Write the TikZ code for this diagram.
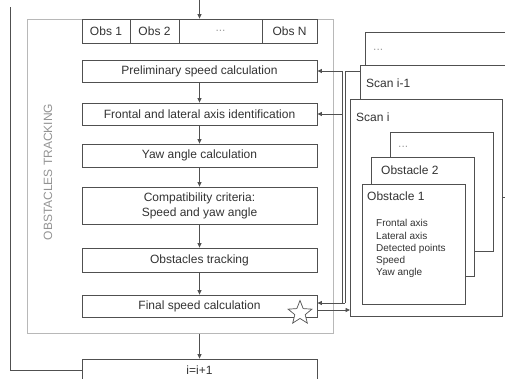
\documentclass[tikz,border=0pt]{standalone}
\usepackage{fontspec}
\setmainfont{Liberation Sans}
\usepackage{tikz}
\usetikzlibrary{arrows.meta, positioning, calc, shapes.geometric}
\usepackage{xcolor}
\definecolor{trait}{HTML}{505050}
\definecolor{texte}{HTML}{333333}
\definecolor{gris}{HTML}{B8B8B8}
\definecolor{points}{HTML}{A0A0A0}
\tikzset{
    bloc/.style={draw=trait, line width=0.8pt, fill=white, minimum width=235pt, minimum height=22pt, inner sep=0pt, text=texte, font=\fontsize{12}{15}\selectfont, align=center},
    case/.style={draw=trait, line width=0.8pt, fill=white, minimum height=24pt, inner sep=0pt, text=texte, font=\fontsize{12}{15}\selectfont},
    feuille/.style={draw=trait, line width=0.8pt, fill=white, anchor=north west, inner sep=0pt},
    etiquette/.style={anchor=west, inner sep=0pt, text=texte, font=\fontsize{12}{15}\selectfont},
    fleche/.style={-{Triangle[length=4.5pt, width=4pt]}, line width=0.8pt, trait},
    lien/.style={line width=0.8pt, trait},
}

\begin{document}
\begin{tikzpicture}[x=1pt, y=-1pt]
\useasboundingbox (0,0) rectangle (505,378);
\clip (0,0) rectangle (505,378);
% Cadre du suivi
\node[draw=gris, line width=0.9pt, minimum width=306pt, minimum height=314pt, anchor=north west, inner sep=0pt] (suivi) at (27,19) {};
\node[rotate=90, text=gris!80!black, font=\fontsize{12}{14}\selectfont] (titre) at (48,172) {OBSTACLES TRACKING};
% Liste des obstacles
\node[case, minimum width=48pt] (obs1) at (106,31) {Obs 1};
\node[case, minimum width=49pt] (obs2) at (154.5,31) {Obs 2};
\node[case, minimum width=83pt, text=points] (obsdots) at (220.5,31) {...};
\node[case, minimum width=55pt] (obsN) at (289.5,31) {Obs N};
% Etapes
\node[bloc] (prelim) at (199.5,71) {Preliminary speed calculation};
\node[bloc] (axes) at (199.5,114) {Frontal and lateral axis identification};
\node[bloc, minimum height=23pt] (lacet) at (199.5,155.5) {Yaw angle calculation};
\node[bloc, minimum height=37pt] (critere) at (199.5,205.5) {Compatibility criteria:\\Speed and yaw angle};
\node[bloc, minimum height=24pt] (pistage) at (199.5,260) {Obstacles tracking};
\node[bloc] (final) at (199.5,306) {Final speed calculation};
\node[bloc] (incr) at (199.5,370) {i=i+1};
\node[star, star points=5, star point ratio=2.3, minimum size=25pt, inner sep=0pt, draw=trait, line width=0.7pt, fill=white] (etoile) at (300,313) {};
% Fleches verticales
\coordinate (entree) at (199.5,0);
\draw[fleche] (entree) -- (entree |- obsdots.north);
\draw[fleche] (prelim) -- (axes);
\draw[fleche] (axes) -- (lacet);
\draw[fleche] (lacet) -- (critere);
\draw[fleche] (critere) -- (pistage);
\draw[fleche] (pistage) -- (final);
\draw[fleche] (suivi.south -| incr.north) -- (incr.north);
\coordinate (boucle) at (10,7);
\draw[lien] (incr.west) -| (boucle);
% Balayages
\node[feuille, minimum width=150pt, minimum height=60pt] (scandots) at (365,32) {};
\node[etiquette, text=points] (scandotslbl) at (373,50) {...};
\node[feuille, minimum width=144.5pt, minimum height=132pt] (scanprev) at (360,65) {};
\node[etiquette] (scanprevlbl) at (366,83) {Scan i-1};
\node[feuille, minimum width=152pt, minimum height=217pt] (scani) at (350,99) {};
\node[etiquette] (scanilbl) at (356,117) {Scan i};
% Obstacles
\node[feuille, minimum width=103pt, minimum height=119pt] (obstdots) at (390,132) {};
\node[etiquette, text=points] (obstdotslbl) at (398,147) {...};
\node[feuille, minimum width=103pt, minimum height=119pt] (obstacle2) at (371,157) {};
\node[etiquette] (obstacle2lbl) at (381,170) {Obstacle 2};
\node[feuille, minimum width=103pt, minimum height=120pt] (obstacle1) at (362,184) {};
\node[etiquette] (obstacle1lbl) at (367,196) {Obstacle 1};
\node[anchor=north west, inner sep=0pt, align=left, text=texte, font=\fontsize{10}{12.2}\selectfont] (attributs) at (376,219.5) {Frontal axis\\Lateral axis\\Detected points\\Speed\\Yaw angle};
% Retours
\coordinate (bus) at (342,0);
\coordinate (bus2) at (345,0);
\draw[lien] (prelim.east -| scanprev.west) -- (prelim.east -| bus2) -- ([yshift=3pt]final.east -| bus2);
\draw[lien] (prelim.east -| bus) -- ([yshift=3pt]final.east -| bus);
\draw[fleche] (prelim.east -| bus) -- (prelim.east);
\draw[fleche] (axes.east -| bus) -- (axes.east);
\draw[fleche] ([yshift=3pt]final.east -| bus2) -- ([yshift=3pt]final.east);
\draw[fleche] ([yshift=-4pt]final.east) -- ([yshift=-4pt]final.east -| scani.west);
\end{tikzpicture}
\end{document}
